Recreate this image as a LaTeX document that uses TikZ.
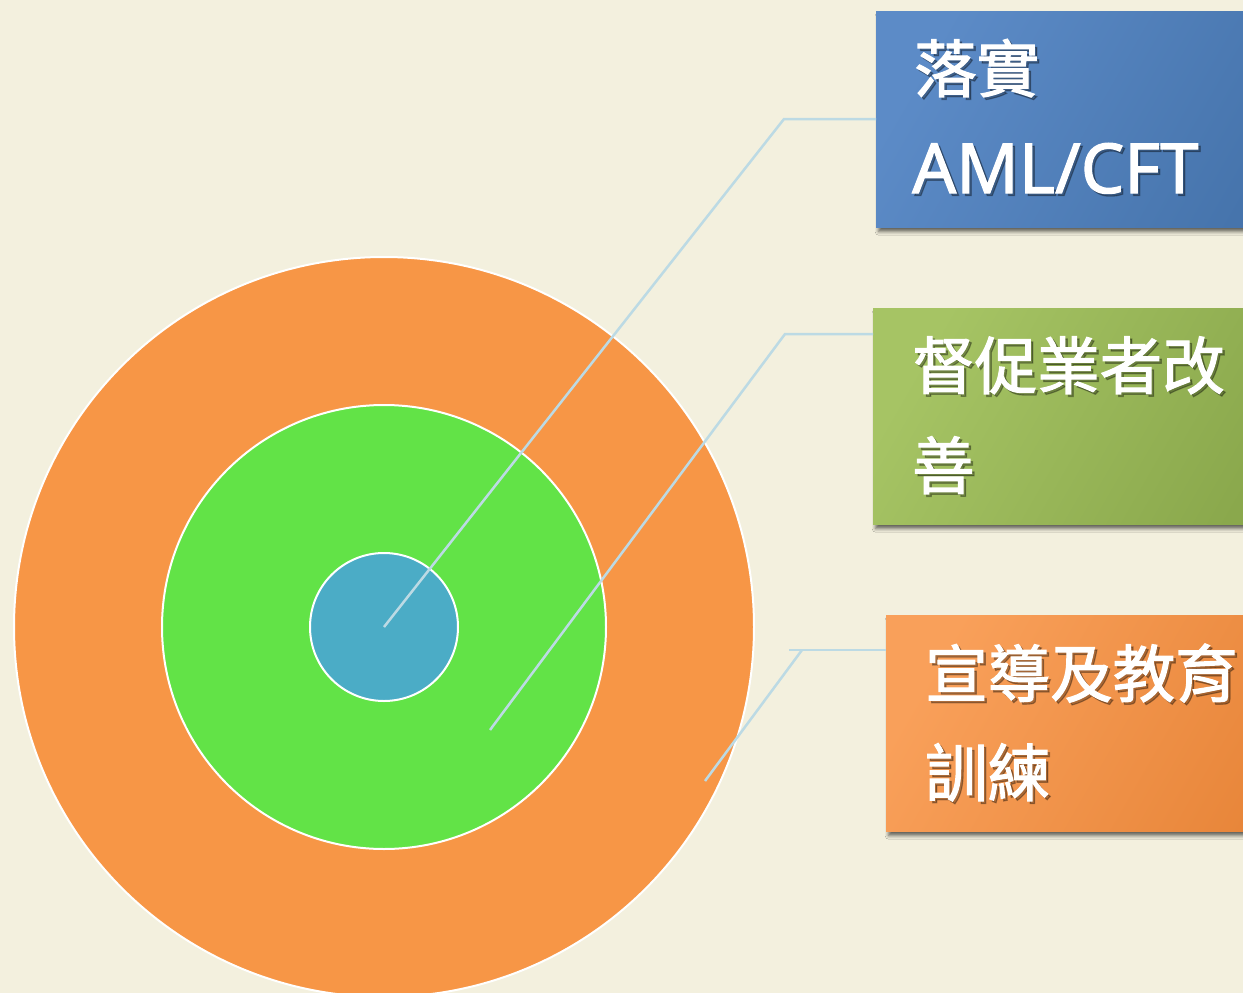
\documentclass[tikz,border=0pt]{standalone}
\usepackage{fontspec}
\setmainfont{Noto Sans}[FakeBold=1.6]
\newfontfamily\cjk{Noto Sans CJK TC}[FakeBold=1.8]
\usetikzlibrary{shadows.blur}
\definecolor{bg}{RGB}{243,240,222}
\definecolor{ringO}{RGB}{247,150,70}
\definecolor{ringG}{RGB}{98,227,71}
\definecolor{ringB}{RGB}{75,172,198}
\definecolor{conn}{RGB}{188,218,228}
\definecolor{blueA}{RGB}{92,139,199}
\definecolor{blueB}{RGB}{70,116,172}
\definecolor{greenA}{RGB}{166,196,100}
\definecolor{greenB}{RGB}{138,168,76}
\definecolor{orangeA}{RGB}{249,160,90}
\definecolor{orangeB}{RGB}{232,134,58}
\tikzset{
  ring/.style={draw=white, line width=2pt},
  conline/.style={draw=conn, line width=2.5pt},
  panel/.style={anchor=north west, minimum width=430pt, minimum height=216pt, inner sep=0pt,
    blur shadow={shadow xshift=2.5pt, shadow yshift=-4.5pt, shadow blur radius=3.5pt, shadow opacity=60}},
  txt/.style={anchor=base west, inner sep=0pt, text=white, font=\fontsize{62.5}{62.5}\selectfont\cjk},
  lat/.style={anchor=base west, inner sep=0pt, text=white, font=\fontsize{69}{69}\selectfont},
  tsh/.style={text=black, opacity=0.3, xshift=2.5pt, yshift=-2.5pt},
}
\newcommand{\shadowtext}[4]{%
  \node[#1, tsh] at (#2) {#4};%
  \node[#1] (#3) at (#2) {#4};}
\begin{document}
\begin{tikzpicture}[x=1pt,y=-1pt]
\useasboundingbox (0,0) rectangle (1243,993);
\clip (0,0) rectangle (1243,993);
\fill[bg] (0,0) rectangle (1243,993);

% rings
\coordinate (ctr) at (384,627);
\draw[ring, fill=ringO] (ctr) circle[radius=370];
\draw[ring, fill=ringG] (ctr) circle[radius=222];
\draw[ring, fill=ringB] (ctr) circle[radius=74];

% panels
\node[panel, left color=blueA, right color=blueB, shading angle=60] (box1) at (876,11) {};
\node[panel, left color=greenA, right color=greenB, shading angle=60] (box2) at (873,308) {};
\node[panel, left color=orangeA, right color=orangeB, shading angle=60] (box3) at (886,615) {};

% connectors
\coordinate (s1) at (384,627);
\coordinate (k1) at (784,119);
\coordinate (s2) at (490,730);
\coordinate (k2) at (785,334);
\coordinate (s3) at (705,781);
\coordinate (k3) at (802,650);
\coordinate (h3) at (789,650);
\draw[conline] (s1) -- (k1) -- (k1 -| box1.west);
\draw[conline] (s2) -- (k2) -- (k2 -| box2.west);
\draw[conline] (s3) -- (k3);
\draw[conline] (h3) -- (h3 -| box3.west);

% texts
\shadowtext{txt}{914,92}{t1a}{落實}
\shadowtext{lat}{912,193}{t1b}{AML/CFT}
\shadowtext{txt}{912,389}{t2a}{督促業者改}
\shadowtext{txt}{912,489}{t2b}{善}
\shadowtext{txt}{925,697}{t3a}{宣導及教育}
\shadowtext{txt}{925,796}{t3b}{訓練}
\end{tikzpicture}
\end{document}
